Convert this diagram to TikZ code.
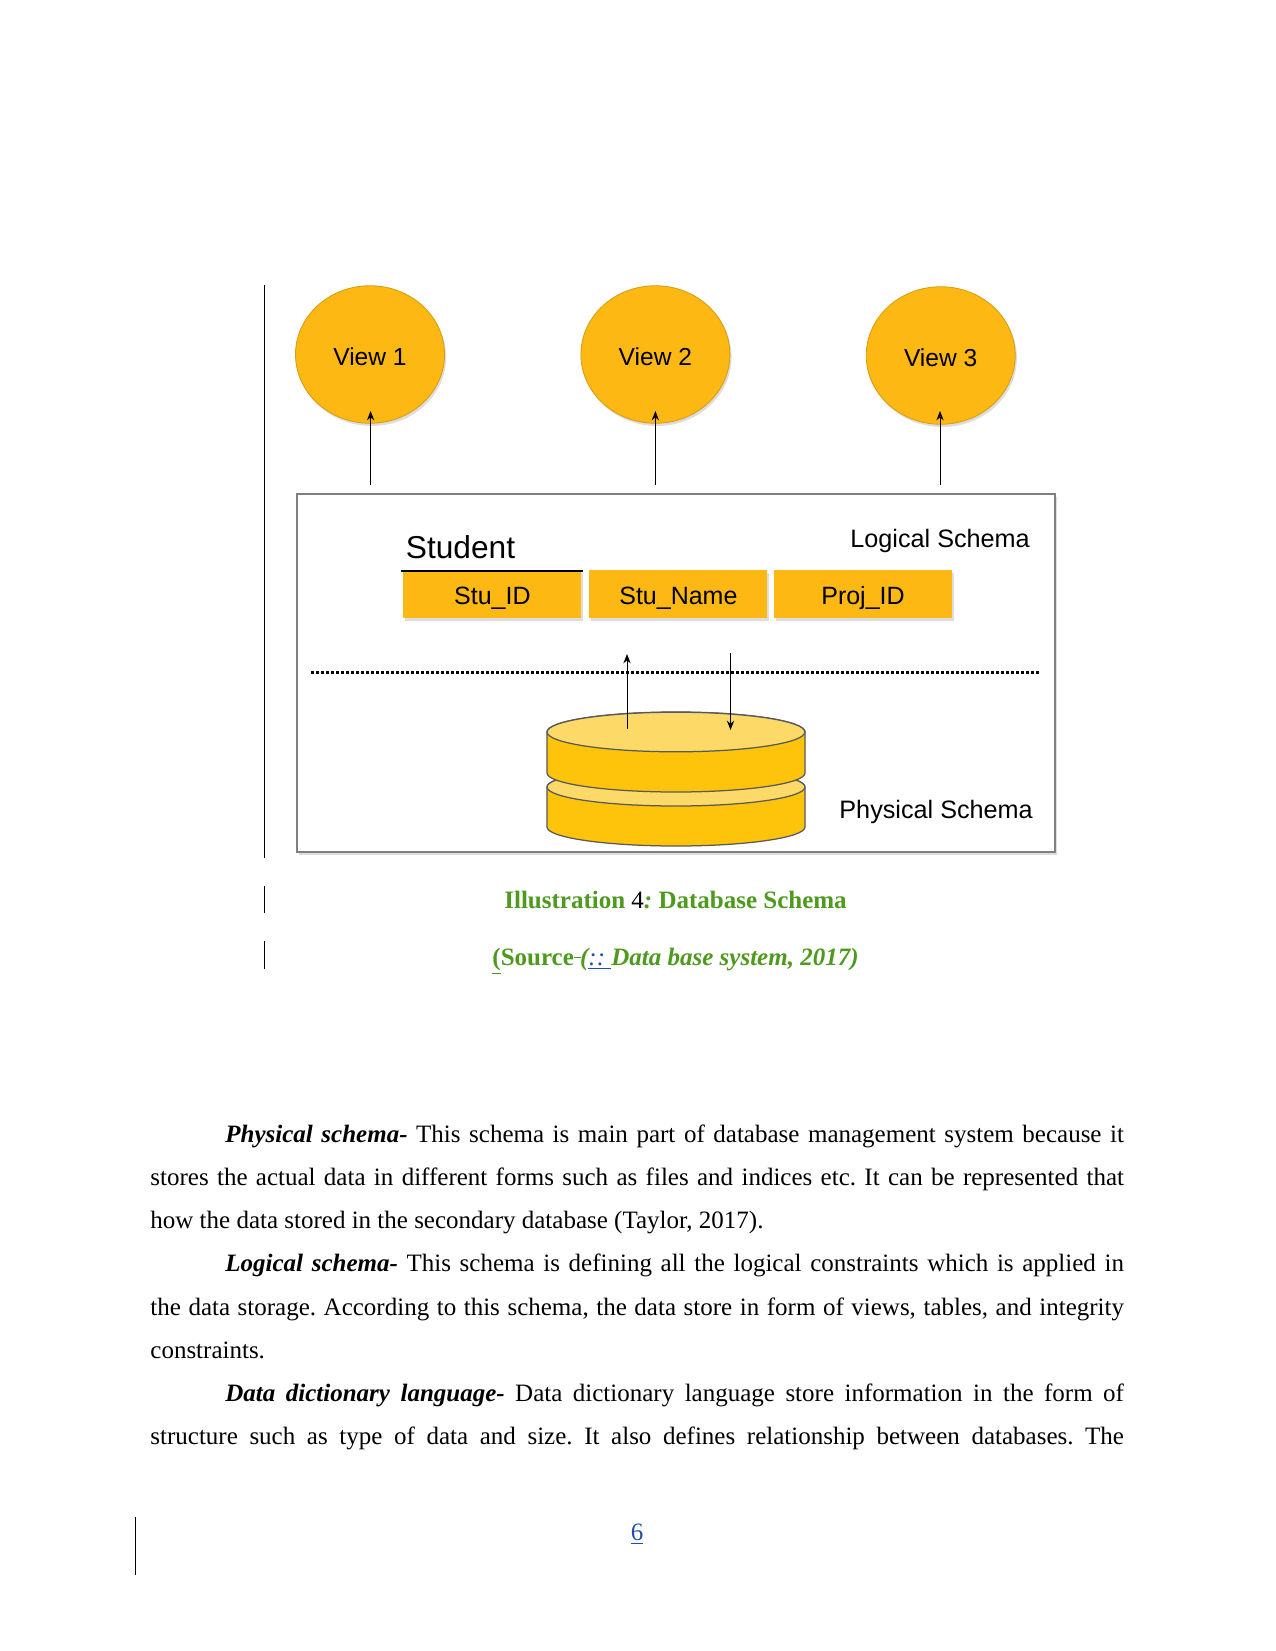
\documentclass[tikz,border=0pt]{standalone}
\usepackage{fontspec}
\setmainfont{Liberation Serif}
\newfontfamily\labelfont{Liberation Sans}
\usetikzlibrary{shapes.geometric, arrows.meta, shadows}
\definecolor{viewfill}{HTML}{FDB813}
\definecolor{diskside}{HTML}{FEC30B}
\definecolor{disktop}{HTML}{FDDA68}
\definecolor{capgreen}{HTML}{4E9A1E}
\definecolor{linkblue}{HTML}{1F4FA8}
\newcommand{\fullline}[1]{\makebox[467.3pt][s]{#1}}
\newcommand{\indentline}[1]{\makebox[431.3pt][s]{#1}}
\newcommand{\leadin}[1]{\textbf{\textit{#1}}}
\newcommand{\bodysize}{\fontsize{12}{14}\selectfont\frenchspacing}
\begin{document}
\begin{tikzpicture}[
  x=0.48pt, y=-0.48pt,
  softshadow/.style={drop shadow={shadow xshift=0.8pt, shadow yshift=-1.3pt, opacity=0.22, fill=black!60}},
  viewnode/.style={ellipse, draw=viewfill!85!black, line width=0.4pt, fill=viewfill, minimum width=71.5pt, minimum height=66pt, inner sep=0pt, text height=11pt, text depth=0pt, softshadow, font=\labelfont\fontsize{11.8}{14}\selectfont},
  fieldnode/.style={rectangle, fill=viewfill, minimum width=85.5pt, minimum height=23.2pt, inner sep=0pt, text height=10pt, text depth=0pt, softshadow, font=\labelfont\fontsize{12}{14}\selectfont},
  arrow/.style={-{Stealth[length=4.5pt, width=3.5pt]}, line width=0.45pt},
  schemalabel/.style={anchor=base west, inner sep=0pt, font=\labelfont\fontsize{12.1}{14}\selectfont},
  textline/.style={anchor=base west, inner sep=0pt, font=\bodysize},
  changebar/.style={line width=0.5pt},
  caption/.style={anchor=base, inner sep=0pt, text=capgreen, font=\bodysize\bfseries},
  disk/.style={draw=black!65, line width=0.6pt, fill=diskside}
]
\useasboundingbox (0,0) rectangle (1275,1651);
\fill[white] (0,0) rectangle (1275,1651);

% the three views
\node[viewnode] (view1) at (370,354.5) {View 1};
\node[viewnode] (view2) at (655.4,354.5) {View 2};
\node[viewnode] (view3) at (940.7,355.5) {View 3};
\coordinate (foot1) at (370.6,485);
\coordinate (foot2) at (655.4,485);
\coordinate (foot3) at (940,485);
\coordinate (tip1) at (370.6,411);
\coordinate (tip2) at (655.4,411);
\coordinate (tip3) at (940,411);
\draw[arrow] (foot1) -- (tip1);
\draw[arrow] (foot2) -- (tip2);
\draw[arrow] (foot3) -- (tip3);

% schema frame
\node[draw=black!50, line width=1.1pt, fill=white, minimum width=364pt, minimum height=172pt, inner sep=0pt, softshadow] (frame) at (676,673) {};
\node[schemalabel] (logical) at (850,547) {Logical Schema};
\node[schemalabel] (physical) at (839,818) {Physical Schema};
\node[anchor=base west, inner sep=0pt, font=\labelfont\fontsize{15.2}{18}\selectfont] (student) at (405.5,558) {Student};

% table fields
\node[fieldnode] (stuid) at (492.4,594) {Stu\_ID};
\node[fieldnode] (stuname) at (678.4,594) {Stu\_Name};
\node[fieldnode] (projid) at (863,594) {Proj\_ID};
\coordinate (rulea) at (401,571);
\coordinate (ruleb) at (583,571);
\draw[line width=1.3pt] (rulea) -- (ruleb);

\coordinate (dota) at (311,672.5);
\coordinate (dotb) at (1039,672.5);
\draw[line width=1.5pt, dash pattern=on 1.2pt off 1.2pt] (dota) -- (dotb);

% disk stack, bottom plate first
\path[disk] (547,787) -- (547,827) arc[start angle=180, end angle=0, x radius=129, y radius=19] -- (805,787) arc[start angle=0, end angle=-180, x radius=129, y radius=19] -- cycle;
\path[disk, fill=disktop] (547,787) arc[start angle=180, end angle=0, x radius=129, y radius=19] arc[start angle=0, end angle=-180, x radius=129, y radius=19];
\path[disk] (547,732) -- (547,773) arc[start angle=180, end angle=0, x radius=129, y radius=19] -- (805,732) arc[start angle=0, end angle=-180, x radius=129, y radius=20] -- cycle;
\node[ellipse, disk, fill=disktop, minimum width=123.8pt, minimum height=19pt, inner sep=0pt] (disktopplate) at (676,732) {};

\coordinate (upfoot) at (627,729);
\coordinate (uptip) at (627,654);
\coordinate (downfoot) at (730.5,653);
\coordinate (downtip) at (730.5,730);
\draw[arrow] (upfoot) -- (uptip);
\draw[arrow] (downfoot) -- (downtip);

% caption
\node[caption] (illus) at (675.5,908) {Illustration \textcolor{black}{\mdseries 4}\textit{:} Database Schema};
\node[caption] (source) at (675.5,965) {\underline{(}Source\rule[0.27em]{0.3em}{0.4pt}\kern-0.05em\textit{(\textcolor{linkblue}{\mdseries\underline{:: }}Data base system, 2017)}};

% body text
\node[textline] (p1a) at (225,1142) {\indentline{\leadin{Physical schema-} This schema is main part of database management system because it}};
\node[textline] (p1b) at (150,1185) {\fullline{stores the actual data in different forms such as files and indices etc. It can be represented that}};
\node[textline] (p1c) at (150,1228) {how the data stored in the secondary database (Taylor, 2017).};
\node[textline] (p2a) at (225,1271.5) {\indentline{\leadin{Logical schema-} This schema is defining all the logical constraints which is applied in}};
\node[textline] (p2b) at (150,1315) {\fullline{the data storage. According to this schema, the data store in form of views, tables, and integrity}};
\node[textline] (p2c) at (150,1358) {constraints.};
\node[textline] (p3a) at (225,1401) {\indentline{\leadin{Data dictionary language-} Data dictionary language store information in the form of}};
\node[textline] (p3b) at (150,1444) {\fullline{structure such as type of data and size. It also defines relationship between databases. The}};
\node[anchor=base, inner sep=0pt, text=linkblue, font=\bodysize] (pageno) at (637,1540) {\underline{6}};

% change bars in the margin
\coordinate (bar1a) at (264.5,285);
\coordinate (bar1b) at (264.5,858);
\coordinate (bar2a) at (264.5,886);
\coordinate (bar2b) at (264.5,913);
\coordinate (bar3a) at (264.5,941);
\coordinate (bar3b) at (264.5,969);
\coordinate (bar4a) at (135.5,1517);
\coordinate (bar4b) at (135.5,1575);
\draw[changebar] (bar1a) -- (bar1b);
\draw[changebar] (bar2a) -- (bar2b);
\draw[changebar] (bar3a) -- (bar3b);
\draw[changebar] (bar4a) -- (bar4b);
\end{tikzpicture}
\end{document}
